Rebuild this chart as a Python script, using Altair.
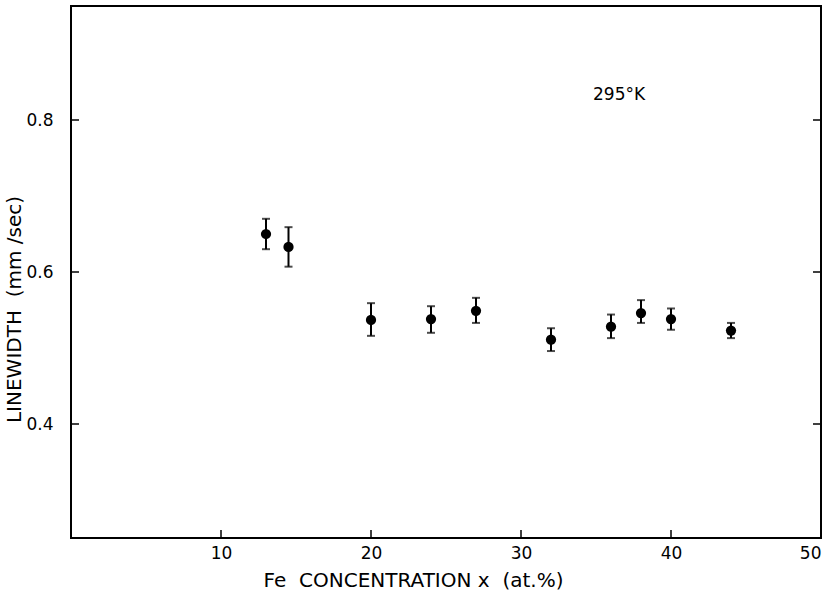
import altair as alt
import pandas as pd

# Data
conc = [13, 14.5, 20, 24, 27, 32, 36, 38, 40, 44]
linewidth = [0.650, 0.633, 0.537, 0.538, 0.549, 0.511, 0.528, 0.546, 0.538, 0.523]
err_lo = [0.630, 0.607, 0.516, 0.520, 0.533, 0.496, 0.513, 0.533, 0.524, 0.513]
err_hi = [0.670, 0.659, 0.559, 0.555, 0.566, 0.526, 0.544, 0.563, 0.552, 0.533]

x_ticks = [10, 20, 30, 40, 50]
y_ticks = [0.4, 0.6, 0.8]
annot_text = ["295°K"]
annot_x = [34.8]
annot_y = [0.833]

W, H = 750, 532
FONT = "DejaVu Sans"
NB = "\u00a0"

df = pd.DataFrame({"x": conc, "y": linewidth, "lo": err_lo, "hi": err_hi})
xt = pd.DataFrame({"x": x_ticks[:-1]})
yt = pd.DataFrame({"y": y_ticks})
ann = pd.DataFrame({"t": annot_text, "x": annot_x, "y": annot_y})

xscale = alt.Scale(domain=[0, 50], nice=False, zero=False)
yscale = alt.Scale(domain=[0.25, 0.95], nice=False, zero=False)

xaxis = alt.Axis(values=x_ticks, tickSize=0, labelPadding=7, domain=False, grid=False,
                 title=f"Fe{NB}{NB}CONCENTRATION{NB}x{NB}{NB}(at.%)", titlePadding=9,
                 titleX=342, titleAlign="center", titleAnchor="start",
                 labelFontSize=17, titleFontSize=20, labelFont=FONT, titleFont=FONT,
                 titleFontWeight="normal", labelColor="black", titleColor="black",
                 format="d")
yaxis = alt.Axis(values=y_ticks, tickSize=0, labelPadding=18, domain=False, grid=False,
                 title=f"LINEWIDTH{NB}{NB}(mm{NB}/sec)", titlePadding=1,
                 titleY=303, titleAlign="center", titleAnchor="start",
                 labelFontSize=17, titleFontSize=20, labelFont=FONT, titleFont=FONT,
                 titleFontWeight="normal", labelColor="black", titleColor="black",
                 format=".1f")

base = alt.Chart(df)

pts = base.mark_point(filled=True, size=105, color="black", opacity=1).encode(
    x=alt.X("x:Q", scale=xscale, axis=xaxis),
    y=alt.Y("y:Q", scale=yscale, axis=yaxis),
)
bars = base.mark_rule(color="black", strokeWidth=2).encode(
    x="x:Q", y="lo:Q", y2="hi:Q"
)
cap_lo = base.mark_tick(orient="horizontal", size=8, thickness=2, color="black").encode(
    x="x:Q", y="lo:Q"
)
cap_hi = base.mark_tick(orient="horizontal", size=8, thickness=2, color="black").encode(
    x="x:Q", y="hi:Q"
)

tick_bottom = alt.Chart(xt).mark_rule(color="black", strokeWidth=1.5).encode(
    x="x:Q", y=alt.value(H), y2=alt.value(H - 8)
)
tick_left = alt.Chart(yt).mark_rule(color="black", strokeWidth=1.5).encode(
    y="y:Q", x=alt.value(0), x2=alt.value(8)
)
tick_right = alt.Chart(yt).mark_rule(color="black", strokeWidth=1.5).encode(
    y="y:Q", x=alt.value(W - 8), x2=alt.value(W)
)

label = alt.Chart(ann).mark_text(align="left", baseline="middle", fontSize=17,
                                 font=FONT, color="black").encode(
    x="x:Q", y="y:Q", text="t:N"
)

chart = alt.layer(bars, cap_lo, cap_hi, pts, tick_bottom, tick_left, tick_right, label).properties(
    width=W, height=H,
    background="white",
    autosize=alt.AutoSizeParams(type="none"),
    padding={"left": 71, "top": 6, "right": 9, "bottom": 56},
).configure_view(
    stroke="black", strokeWidth=2
)

chart.save("out.html", embed_options={"renderer": "svg", "actions": False})
